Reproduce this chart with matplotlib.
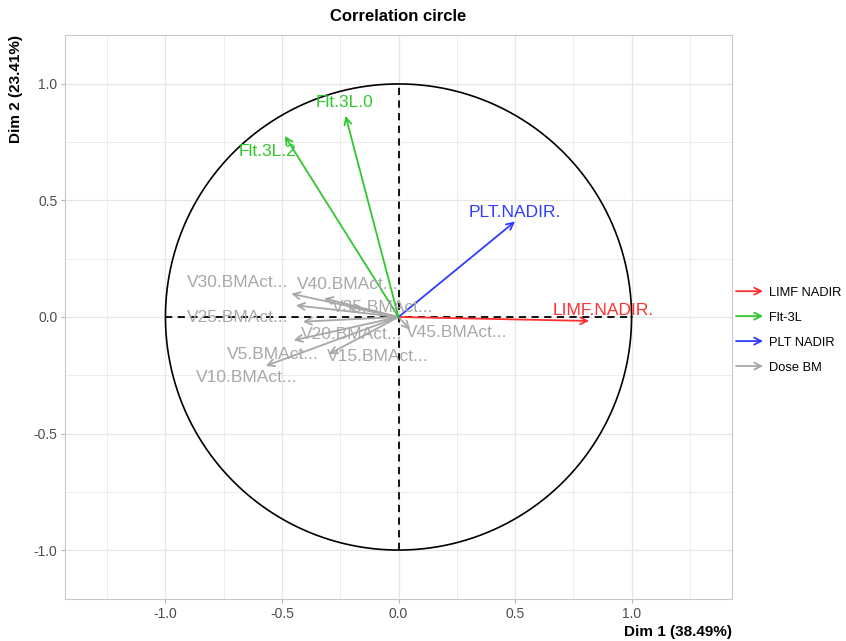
import matplotlib
matplotlib.use("Agg")
import matplotlib.pyplot as plt
import numpy as np
from matplotlib.legend_handler import HandlerBase
from matplotlib.lines import Line2D
from matplotlib.patches import FancyArrowPatch

plt.rcParams['font.family'] = ['Liberation Sans', 'DejaVu Sans']

# data: variable coordinates (Dim 1, Dim 2) and label positions
var_names = ["LIMF.NADIR.", "PLT.NADIR.", "Flt.3L.0", "Flt.3L.2",
             "V30.BMAct...", "V25.BMAct...", "V40.BMAct...", "V35.BMAct...",
             "V20.BMAct...", "V5.BMAct...", "V10.BMAct...", "V15.BMAct...",
             "V45.BMAct..."]
var_group = ["LIMF NADIR", "PLT NADIR", "Flt-3L", "Flt-3L",
             "Dose BM", "Dose BM", "Dose BM", "Dose BM",
             "Dose BM", "Dose BM", "Dose BM", "Dose BM", "Dose BM"]
dim1 = [0.818, 0.50, -0.227, -0.488,
        -0.46, -0.44, -0.32, -0.22,
        -0.41, -0.45, -0.57, -0.30, 0.05]
dim2 = [-0.017, 0.41, 0.863, 0.777,
        0.10, 0.05, 0.08, 0.045,
        -0.02, -0.10, -0.21, -0.16, -0.055]
lab_x = [0.88, 0.50, -0.23, -0.56,
         -0.69, -0.69, -0.22, -0.07,
         -0.20, -0.54, -0.65, -0.09, 0.25]
lab_y = [0.03, 0.45, 0.92, 0.71,
         0.15, 0.0, 0.14, 0.04,
         -0.075, -0.16, -0.26, -0.17, -0.065]

groups = ["LIMF NADIR", "Flt-3L", "PLT NADIR", "Dose BM"]
group_colors = {"LIMF NADIR": "#FF3030", "Flt-3L": "#2EC82E",
                "PLT NADIR": "#2E3CFF", "Dose BM": "#A8A8A8"}

fig = plt.figure(figsize=(8.46, 6.41), dpi=100)
ax = fig.add_axes([65 / 846, 42 / 641, 667 / 846, 564 / 641])

# grid
for v in np.arange(-1.25, 1.3, 0.25):
    major = abs((v * 2) - round(v * 2)) < 1e-9
    ax.axvline(v, color="#E6E6E6", lw=0.9 if major else 0.5, zorder=0)
    ax.axhline(v, color="#E6E6E6", lw=0.9 if major else 0.5, zorder=0)

# circle and axes
t = np.linspace(0, 2 * np.pi, 400)
ax.plot(np.cos(t), np.sin(t), color="black", lw=1.2, zorder=1)
ax.plot([-1, 1], [0, 0], color="black", lw=1.3, ls=(0, (4, 3)), zorder=1)
ax.plot([0, 0], [-1, 1], color="black", lw=1.3, ls=(0, (4, 3)), zorder=1)

# arrows (grey first so coloured ones sit on top)
order = sorted(range(len(var_names)), key=lambda i: var_group[i] != "Dose BM")
for i in order:
    c = group_colors[var_group[i]]
    ax.annotate("", xy=(dim1[i], dim2[i]), xytext=(0, 0),
                arrowprops=dict(arrowstyle="->,head_length=0.5,head_width=0.25",
                                color=c, lw=1.3, shrinkA=0, shrinkB=0), zorder=3)
for i in order:
    c = group_colors[var_group[i]]
    ax.text(lab_x[i], lab_y[i], var_names[i], color=c, fontsize=12.5,
            ha="center", va="center", zorder=4)

ax.set_xlim(-1.43, 1.43)
ax.set_ylim(-1.21, 1.21)
ax.set_aspect("equal", adjustable="box")
ax.set_xticks([-1.0, -0.5, 0.0, 0.5, 1.0])
ax.set_yticks([-1.0, -0.5, 0.0, 0.5, 1.0])
ax.set_xticklabels(["-1.0", "-0.5", "0.0", "0.5", "1.0"])
ax.set_yticklabels(["-1.0", "-0.5", "0.0", "0.5", "1.0"])
ax.tick_params(colors="#B3B3B3", labelcolor="#4D4D4D", labelsize=10,
               length=3, width=0.8, pad=2.5)
for s in ax.spines.values():
    s.set_color("#C8C8C8")
    s.set_linewidth(0.8)

ax.set_title("Correlation circle", fontsize=12, fontweight="bold", pad=10)
ax.set_xlabel("Dim 1 (38.49%)", fontsize=11, fontweight="bold", loc="right", labelpad=3)
ax.set_ylabel("Dim 2 (23.41%)", fontsize=11, fontweight="bold", loc="top", labelpad=8)


class ArrowHandler(HandlerBase):
    def create_artists(self, legend, orig_handle, xdescent, ydescent, width, height, fontsize, trans):
        y = height / 2 - ydescent
        a = FancyArrowPatch((-xdescent, y), (width - xdescent, y),
                            arrowstyle="->,head_length=0.5,head_width=0.25",
                            color=orig_handle.get_color(), lw=1.3,
                            mutation_scale=10, shrinkA=0, shrinkB=0, transform=trans)
        return [a]


handles = [Line2D([], [], color=group_colors[g]) for g in groups]
fig.legend(handles, groups, handler_map={Line2D: ArrowHandler()},
           loc="center left", bbox_to_anchor=(0.870, 0.485), frameon=False,
           fontsize=9.3, handlelength=2.1, labelspacing=1.0, handletextpad=0.45,
           borderpad=0, borderaxespad=0)

fig.savefig("out.png", dpi=100)
